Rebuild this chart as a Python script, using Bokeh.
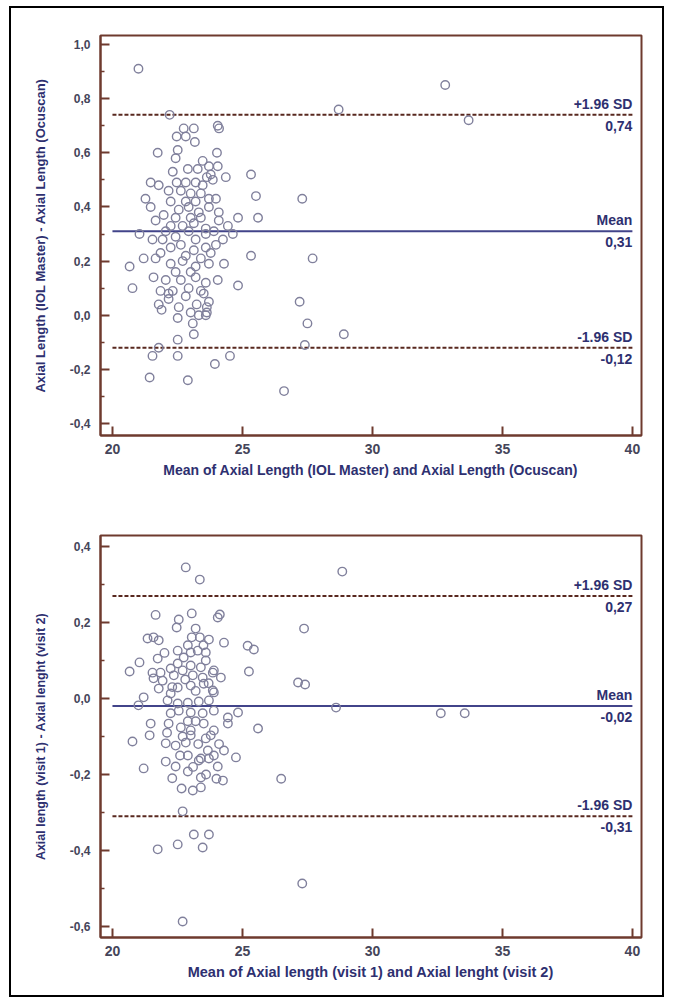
from bokeh.plotting import figure
from bokeh.models import FixedTicker, CustomJSTickFormatter, Range1d
from bokeh.layouts import column
from bokeh.embed import file_html
from bokeh.resources import INLINE
from bokeh.core.properties import value

# ---------------- data: plot 1 (IOL Master vs Ocuscan) ----------------
mean_1 = [21.0, 32.8, 28.7, 33.7, 22.2, 24.05, 24.1, 22.74, 23.13, 22.47,
          22.82, 23.17, 21.74, 22.51, 24.02, 22.43, 23.47, 24.05, 22.9, 23.28,
          22.32, 23.71, 23.78, 25.33, 24.36, 21.47, 21.78, 22.47, 22.82, 23.2,
          23.47, 23.86, 23.63, 21.27, 21.47, 23.98, 22.16, 22.63, 23.01, 23.4,
          23.71, 22.24, 22.82, 23.2, 25.52, 22.55, 22.93, 23.32, 23.71, 24.09,
          21.97, 22.43, 23.01, 23.4, 24.83, 25.6, 21.66, 24.09, 24.44, 22.24,
          22.7, 23.13, 23.59, 23.9, 22.05, 22.93, 21.04, 21.54, 21.93, 22.43,
          23.2, 23.59, 24.25, 24.63, 22.24, 22.63, 23.13, 23.59, 23.98, 21.85,
          22.82, 25.33, 21.2, 23.4, 23.78, 20.66, 24.29, 21.66, 22.24, 22.7,
          23.2, 23.71, 22.43, 23.01, 20.77, 24.83, 21.58, 22.05, 22.63, 23.2,
          23.59, 24.05, 21.85, 22.93, 22.32, 23.4, 22.16, 22.82, 23.24, 22.55,
          23.71, 21.78, 23.63, 23.01, 27.2, 22.16, 23.51, 21.89, 22.51, 23.63,
          23.32, 23.59, 23.09, 22.51, 23.13, 21.78, 21.54, 22.51, 24.52, 23.94,
          21.43, 22.9, 26.6, 27.5, 27.4, 28.9, 27.3, 27.7]
diff_1 = [0.91, 0.85, 0.76, 0.72, 0.74, 0.70, 0.69, 0.69, 0.69, 0.66,
          0.66, 0.64, 0.60, 0.61, 0.60, 0.58, 0.57, 0.55, 0.54, 0.54,
          0.53, 0.55, 0.52, 0.52, 0.51, 0.49, 0.48, 0.49, 0.49, 0.49,
          0.48, 0.50, 0.51, 0.43, 0.40, 0.43, 0.46, 0.46, 0.45, 0.45,
          0.43, 0.42, 0.42, 0.42, 0.44, 0.39, 0.40, 0.38, 0.40, 0.38,
          0.37, 0.36, 0.36, 0.36, 0.36, 0.36, 0.35, 0.35, 0.33, 0.33,
          0.33, 0.34, 0.32, 0.31, 0.31, 0.31, 0.30, 0.28, 0.28, 0.29,
          0.28, 0.30, 0.28, 0.30, 0.25, 0.26, 0.24, 0.25, 0.26, 0.23,
          0.22, 0.22, 0.21, 0.21, 0.23, 0.18, 0.19, 0.21, 0.19, 0.20,
          0.18, 0.19, 0.16, 0.16, 0.10, 0.11, 0.14, 0.13, 0.13, 0.14,
          0.12, 0.13, 0.09, 0.10, 0.09, 0.09, 0.06, 0.07, 0.04, 0.03,
          0.05, 0.04, 0.01, 0.01, 0.05, 0.08, 0.08, 0.02, -0.01, 0.03,
          0.00, 0.00, -0.03, -0.09, -0.07, -0.12, -0.15, -0.15, -0.15, -0.18,
          -0.23, -0.24, -0.28, -0.03, -0.11, -0.07, 0.43, 0.21]
limits_1 = [0.74, 0.31, -0.12]

# ---------------- data: plot 2 (visit 1 vs visit 2) ----------------
mean_2 = [22.82, 23.36, 21.66, 23.05, 22.55, 22.47, 24.05, 24.13, 23.2, 27.37,
          21.35, 21.58, 21.78, 23.05, 23.36, 23.71, 24.29, 25.2, 25.44, 21.04,
          20.66, 21.74, 25.25, 27.14, 27.41, 28.84,
          21.54, 21.85, 21.58, 21.93, 22.24, 22.51, 22.51, 22.74, 23.01, 23.28,
          23.59, 23.59, 23.4, 23.01, 22.7, 22.36, 23.09, 23.47, 23.86, 24.17, 23.9,
          21.2, 21.0, 28.6, 21.47, 21.43, 20.77, 25.6, 24.83, 24.44, 24.29,
          24.75, 21.2, 22.05, 22.43, 22.9, 24.05, 23.4, 23.67, 24.0, 24.25,
          23.4, 26.49, 22.66, 23.09, 23.4, 22.7, 23.13, 23.71, 22.51, 23.47,
          21.74, 27.3, 22.7,
          22.12, 22.51, 22.9, 23.32, 23.71, 23.9, 22.24, 21.78, 22.51, 23.01,
          23.51, 23.86, 22.24, 22.55, 23.01, 23.47, 23.9, 24.44, 22.16, 22.63,
          23.01, 23.51, 23.9, 22.05, 22.43, 22.82, 23.01, 23.59, 23.78, 22.9,
          23.32, 23.71, 23.9, 32.63, 33.55,
          22.0, 22.9, 23.5, 22.3, 23.2, 23.7, 22.8, 22.1, 22.7, 23.3,
          23.2, 22.9, 24.1, 22.6, 23.1, 22.3, 23.6]
diff_2 = [0.345, 0.313, 0.22, 0.224, 0.208, 0.187, 0.213, 0.221, 0.184, 0.184,
          0.158, 0.161, 0.153, 0.161, 0.161, 0.155, 0.147, 0.139, 0.129, 0.095,
          0.071, 0.105, 0.071, 0.042, 0.037, 0.334,
          0.068, 0.068, 0.053, 0.047, 0.079, 0.126, 0.092, 0.108, 0.121, 0.126,
          0.121, 0.10, 0.082, 0.087, 0.074, 0.061, 0.061, 0.055, 0.068, 0.055, 0.074,
          0.003, -0.018, -0.024, -0.066, -0.097, -0.113, -0.079, -0.037, -0.066, -0.137,
          -0.155, -0.184, -0.166, -0.179, -0.192, -0.179, -0.158, -0.137, -0.211, -0.216,
          -0.208, -0.211, -0.237, -0.242, -0.234, -0.297, -0.358, -0.358, -0.384, -0.392,
          -0.397, -0.487, -0.587,
          -0.005, -0.013, -0.011, -0.008, -0.005, 0.016, 0.013, 0.026, 0.029, 0.034,
          0.039, 0.021, -0.039, -0.032, -0.037, -0.039, -0.032, -0.05, -0.066, -0.076,
          -0.084, -0.066, -0.084, -0.118, -0.124, -0.116, -0.097, -0.105, -0.097, -0.15,
          -0.163, -0.158, -0.15, -0.039, -0.039,
          0.12, 0.14, 0.14, 0.03, 0.02, 0.04, 0.05, -0.09, -0.10, -0.12,
          -0.06, -0.06, -0.12, -0.15, -0.18, -0.21, -0.20]
limits_2 = [0.27, -0.02, -0.31]

limit_names = ["+1.96 SD", "Mean", "-1.96 SD"]
x_ticks = [20, 25, 30, 35, 40]
y_ticks_1 = [-0.4, -0.2, 0.0, 0.2, 0.4, 0.6, 0.8, 1.0]
y_minor_1 = [-0.3, -0.1, 0.1, 0.3, 0.5, 0.7, 0.9]
y_ticks_2 = [-0.6, -0.4, -0.2, 0.0, 0.2, 0.4]
y_minor_2 = [-0.5, -0.3, -0.1, 0.1, 0.3]
line_start, line_end = 20, 40

FRAME = "#6e3a2e"
NAVY = "#2e3070"
TICKC = "#45455a"
FONT = "Liberation Sans"


def make_plot(xs, ys, lims, yr, yt, ym, xlabel, ylabel, h, bt, bb, xl_size, yl_size):
    p = figure(width=651, height=h, output_backend="svg", toolbar_location=None,
               x_range=Range1d(19.54, 40.35), y_range=Range1d(*yr),
               min_border_left=89, min_border_right=21,
               min_border_top=bt, min_border_bottom=bb)
    p.grid.visible = False
    p.outline_line_color = FRAME
    p.outline_line_width = 2
    p.outline_line_alpha = 1
    p.background_fill_color = "white"
    p.border_fill_color = "white"

    p.xaxis.ticker = FixedTicker(ticks=x_ticks, minor_ticks=[])
    p.yaxis.ticker = FixedTicker(ticks=yt, minor_ticks=ym)
    p.yaxis.formatter = CustomJSTickFormatter(
        code="var v = Math.abs(tick) < 1e-9 ? 0 : tick; return v.toFixed(1).replace('.', ',');")
    for ax in (p.xaxis[0], p.yaxis[0]):
        ax.axis_line_color = FRAME
        ax.axis_line_width = 2
        ax.major_tick_line_color = FRAME
        ax.major_tick_line_width = 2
        ax.minor_tick_line_color = FRAME
        ax.minor_tick_line_width = 1.5
        ax.major_tick_in = 9
        ax.major_tick_out = 0
        ax.minor_tick_in = 4
        ax.minor_tick_out = 0
        ax.major_label_text_font = FONT
        ax.major_label_text_font_style = "bold"
        ax.major_label_text_color = TICKC
        ax.axis_label_text_font = FONT
        ax.axis_label_text_font_style = "bold"
        ax.axis_label_text_color = NAVY
    p.xaxis.major_label_text_font_size = "14px"
    p.yaxis.major_label_text_font_size = "12px"
    p.xaxis.major_label_standoff = 8
    p.yaxis.major_label_standoff = 10
    p.xaxis.axis_label = xlabel
    p.yaxis.axis_label = ylabel
    p.xaxis.axis_label_text_font_size = xl_size
    p.yaxis.axis_label_text_font_size = yl_size
    p.xaxis.axis_label_standoff = 5
    p.yaxis.axis_label_standoff = 19

    # limits of agreement (dashed) and mean (solid)
    for i, v in enumerate(lims):
        if i == 1:
            p.line([line_start, line_end], [v, v], line_color="#42448a", line_width=2)
        else:
            p.line([line_start, line_end], [v, v], line_color="#58281f",
                   line_width=2, line_dash="4 2")

    p.scatter(xs, ys, marker="circle", size=8.5, fill_color=None,
              line_color="#80809c", line_width=1.4)

    p.text(x=[line_end] * len(lims), y=lims, text=limit_names,
           text_align="right", text_baseline="bottom", y_offset=-3,
           text_font=value(FONT), text_font_style="bold",
           text_font_size="14px", text_color=NAVY)
    p.text(x=[line_end] * len(lims), y=lims,
           text=[f"{v:.2f}".replace(".", ",") for v in lims],
           text_align="right", text_baseline="top", y_offset=6,
           text_font=value(FONT), text_font_style="bold",
           text_font_size="14px", text_color=NAVY)
    return p


p1 = make_plot(mean_1, diff_1, limits_1, (-0.444, 1.033), y_ticks_1, y_minor_1,
               "Mean of Axial Length (IOL Master) and Axial Length (Ocuscan)",
               "Axial Length (IOL Master) - Axial Length (Ocuscan)",
               492, 27, 65, "14px", "13px")
p2 = make_plot(mean_2, diff_2, limits_2, (-0.629, 0.429), y_ticks_2, y_minor_2,
               "Mean of Axial length (visit 1) and Axial lenght (visit 2)",
               "Axial length (visit 1) - Axial lenght (visit 2)",
               495, 35, 58, "14.5px", "12.5px")

layout = column(p1, p2, margin=(6, 0, 0, 9), spacing=0,
                styles={"border": "2px solid #000"})

open("out.html", "w").write(file_html(layout, INLINE))
